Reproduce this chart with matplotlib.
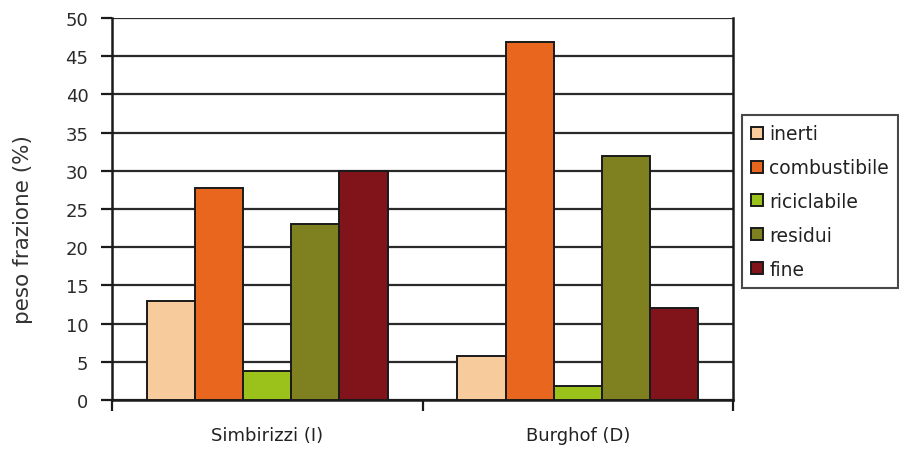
import matplotlib
matplotlib.use("Agg")
import matplotlib.pyplot as plt
import numpy as np

plt.rcParams['font.family'] = ['DejaVu Sans']

categories = ["Simbirizzi (I)", "Burghof (D)"]
series = ["inerti", "combustibile", "riciclabile", "residui", "fine"]
values = {
    "inerti":       [13.0, 5.7],
    "combustibile": [27.7, 46.8],
    "riciclabile":  [3.8, 1.8],
    "residui":      [23.0, 32.0],
    "fine":         [30.0, 12.0],
}
colors = ["#F8CB9C", "#E8661E", "#9BC21A", "#7F8020", "#80141A"]
y_ticks = [0, 5, 10, 15, 20, 25, 30, 35, 40, 45, 50]

fig = plt.figure(figsize=(8.99, 4.52), dpi=100)
ax = fig.add_axes([112 / 899, 1 - 401 / 452, (733 - 112) / 899, (401 - 19) / 452])

x = np.arange(len(categories))
w = 1 / 6.45
for i, (name, col) in enumerate(zip(series, colors)):
    ax.bar(x + (i - 2) * w, values[name], width=w, color=col,
           edgecolor="#1a1a1a", linewidth=1.4, label=name, zorder=3)

ax.set_xlim(-0.5, len(categories) - 0.5)
ax.set_ylim(0, 50)
ax.set_yticks(y_ticks)
ax.yaxis.grid(True, color="#2a2a2a", linewidth=1.6, zorder=0)
ax.set_axisbelow(True)

ax.set_xticks(x)
ax.set_xticklabels(categories, fontsize=13, color="#222222")
ax.set_xticks(np.arange(-0.5, len(categories), 1.0), minor=True)
ax.tick_params(axis="x", which="major", length=0, pad=19)
ax.tick_params(axis="x", which="minor", length=8, width=1.6, color="#1a1a1a", direction="out")
ax.tick_params(axis="y", length=8, width=1.6, color="#1a1a1a", labelsize=13,
               labelcolor="#2a2a2a", pad=9)

for side in ("left", "bottom", "right"):
    ax.spines[side].set_color("#1a1a1a")
    ax.spines[side].set_linewidth(1.8)
ax.spines["top"].set_visible(False)

ax.set_ylabel("peso frazione (%)", fontsize=15.5, color="#333333")
ax.yaxis.set_label_coords(-0.128, 0.448)

leg = ax.legend(loc="upper left", bbox_to_anchor=(742 / 899, 1 - 116 / 452),
                bbox_transform=fig.transFigure, fontsize=13.5, frameon=True,
                fancybox=False, handlelength=0.6, handleheight=0.6,
                handletextpad=0.35, labelspacing=0.79, borderpad=0.5,
                borderaxespad=0)
leg.get_frame().set_edgecolor("#1a1a1a")
leg.get_frame().set_linewidth(1.5)
for t in leg.get_texts():
    t.set_color("#222222")

fig.savefig("out.png", dpi=100)
